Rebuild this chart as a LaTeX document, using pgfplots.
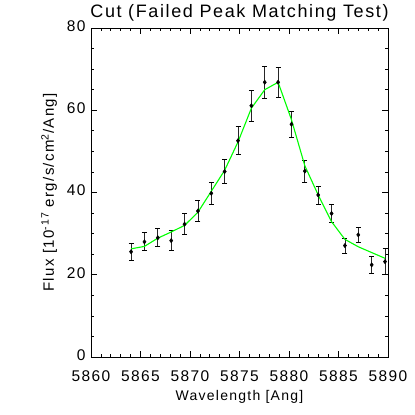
\documentclass[border=0pt]{standalone}
\usepackage{fontspec}
\setmainfont{Liberation Sans}[LetterSpace=9]
\usepackage{pgfplots}
\pgfplotsset{compat=1.18}
\usepackage{pgfplotstable}

% wavelength, measured flux, error, fitted model
\pgfplotstableread{
x        y     err  model
5864.05  25.6  2.0  26.3
5865.40  28.0  2.2  26.9
5866.75  29.0  2.2  28.9
5868.10  28.3  2.4  30.4
5869.45  32.3  2.5  32.0
5870.80  35.5  2.6  35.2
5872.15  39.8  2.7  40.3
5873.50  45.1  3.0  45.4
5874.85  52.6  3.4  52.3
5876.20  61.1  3.7  60.5
5877.55  66.8  3.9  65.0
5878.90  66.8  3.7  66.8
5880.25  56.6  3.2  57.7
5881.60  45.2  2.7  46.5
5882.95  39.4  2.2  39.4
5884.30  34.9  2.1  32.9
5885.65  27.1  1.8  28.6
5887.00  29.7  1.9  26.8
5888.35  22.4  2.0  25.4
5889.70  23.2  3.2  24.0
}\cutdata

\begin{document}
\begin{tikzpicture}
\useasboundingbox (-91pt,-58pt) rectangle (324pt,357pt);
\begin{axis}[
    at={(0,0)}, anchor=south west,
    scale only axis,
    width=297pt, height=329pt,
    xmin=5860, xmax=5890,
    ymin=0, ymax=80,
    xtick={5860,5865,...,5890},
    ytick={0,20,...,80},
    minor x tick num=4,
    minor y tick num=3,
    tick align=inside,
    major tick length=6pt,
    minor tick length=3pt,
    axis line style={line width=0.8pt},
    tick style={black, line width=0.7pt},
    /pgf/number format/assume math mode=true,
    /pgf/number format/1000 sep={},
    ticklabel style={font=\fontsize{15.5}{15.5}\selectfont},
    xticklabel style={yshift=-10pt},
    yticklabel style={xshift=-2pt, yshift=2pt},
    title={Cut (Failed Peak Matching Test)},
    title style={font=\fontsize{18}{18}\selectfont, yshift=-3pt},
    xlabel={Wavelength [Ang]},
    ylabel={Flux [10\textsuperscript{-17} erg/s/cm\textsuperscript{2}/Ang]},
    xlabel style={font=\fontsize{14}{14}\selectfont},
    ylabel style={font=\fontsize{15}{15}\selectfont},
    xlabel shift=2pt,
    ylabel shift=3pt,
]
\addplot[
    black, only marks,
    mark=diamond*, mark size=2.2pt,
    error bars/.cd,
    y dir=both, y explicit,
    error bar style={line width=0.8pt, black!85},
    error mark options={rotate=90, mark size=2.5pt, line width=0.8pt, black},
] table[x=x, y=y, y error=err] {\cutdata};
\addplot[color={rgb,255:red,0;green,255;blue,0}, line width=1.1pt, mark=none]
    table[x=x, y=model] {\cutdata};
\end{axis}
\end{tikzpicture}
\end{document}
